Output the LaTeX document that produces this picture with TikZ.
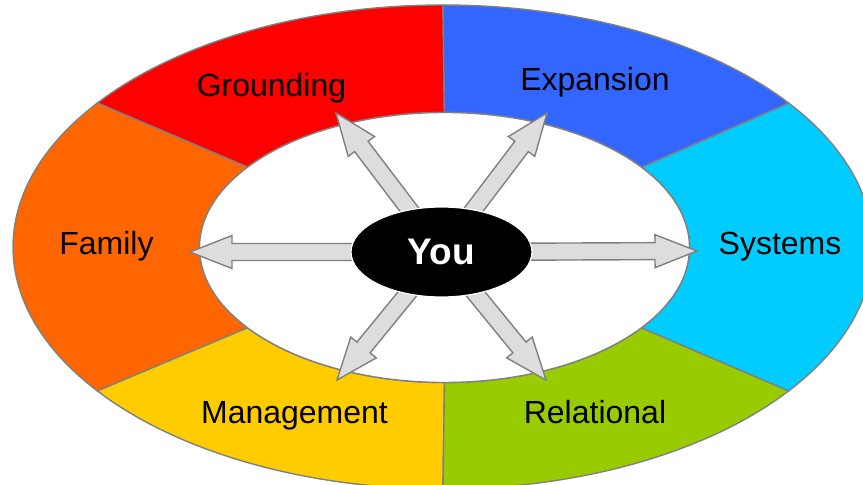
\documentclass[tikz,border=0pt]{standalone}
\usepackage{fontspec}
\setmainfont{Liberation Sans}
\usetikzlibrary{calc,shapes.geometric}

\definecolor{groundred}{HTML}{FF0000}
\definecolor{expandblue}{HTML}{3366FF}
\definecolor{systemcyan}{HTML}{00CCFF}
\definecolor{relgreen}{HTML}{99CC00}
\definecolor{manageyellow}{HTML}{FFCC00}
\definecolor{familyorange}{HTML}{FF6600}
\definecolor{rimgray}{HTML}{808080}
\definecolor{shaftgray}{HTML}{DDDDDD}

% fat arrow from #1 to the tip #2
\newcommand{\bigarrow}[2]{%
  \coordinate (h) at ($(#2)!42pt!(#1)$);
  \filldraw[arrowbody] ($(#1)!8.5pt!90:(#2)$) -- ($(h)!8.5pt!-90:(#1)$) -- ($(h)!16.5pt!-90:(#1)$)
    -- (#2) -- ($(h)!16.5pt!90:(#1)$) -- ($(h)!8.5pt!90:(#1)$) -- ($(#1)!8.5pt!-90:(#2)$) -- cycle;}

\begin{document}
\begin{tikzpicture}[x=1pt, y=1pt,
    sector/.style={draw=rimgray, line width=1.4pt},
    arrowbody/.style={draw=rimgray, fill=shaftgray, line width=1.4pt, line join=miter},
    ringtext/.style={font=\fontsize{32}{36}\selectfont, anchor=base, inner sep=0pt},
    younode/.style={ellipse, fill=black, draw=white, line width=1.2pt, minimum width=181pt, minimum height=90pt, inner sep=0pt, text=white, font=\fontsize{37}{40}\selectfont\bfseries}
    ]
    \clip (-443,-238) rectangle (420,247);
    \coordinate (mid) at (1.5,-0.5);

    % ring sectors
    \filldraw[sector, fill=groundred] (90:430 and 242) arc[start angle=90, end angle=143.5, x radius=430, y radius=242]
      -- ($(mid)+(143.5:245 and 135)$) arc[start angle=143.5, end angle=90, x radius=245, y radius=135] -- cycle;
    \filldraw[sector, fill=familyorange] (143.5:430 and 242) arc[start angle=143.5, end angle=216.5, x radius=430, y radius=242]
      -- ($(mid)+(216.5:245 and 135)$) arc[start angle=216.5, end angle=143.5, x radius=245, y radius=135] -- cycle;
    \filldraw[sector, fill=manageyellow] (216.5:430 and 242) arc[start angle=216.5, end angle=270, x radius=430, y radius=242]
      -- ($(mid)+(270:245 and 135)$) arc[start angle=270, end angle=216.5, x radius=245, y radius=135] -- cycle;
    \filldraw[sector, fill=relgreen] (270:430 and 242) arc[start angle=270, end angle=323.5, x radius=430, y radius=242]
      -- ($(mid)+(323.5:245 and 135)$) arc[start angle=323.5, end angle=270, x radius=245, y radius=135] -- cycle;
    \filldraw[sector, fill=systemcyan] (-36.5:430 and 242) arc[start angle=-36.5, end angle=36.5, x radius=430, y radius=242]
      -- ($(mid)+(36.5:245 and 135)$) arc[start angle=36.5, end angle=-36.5, x radius=245, y radius=135] -- cycle;
    \filldraw[sector, fill=expandblue] (36.5:430 and 242) arc[start angle=36.5, end angle=90, x radius=430, y radius=242]
      -- ($(mid)+(90:245 and 135)$) arc[start angle=90, end angle=36.5, x radius=245, y radius=135] -- cycle;
    \filldraw[sector, fill=white] (mid) ellipse[x radius=245, y radius=135];

    \node[ringtext] (grounding) at (-171.5,150.3) {Grounding};
    \node[ringtext] (expansion) at (152,156) {Expansion};
    \node[ringtext] (family) at (-336.5,-7) {Family};
    \node[ringtext] (systems) at (337,-7) {Systems};
    \node[ringtext] (management) at (-148.5,-176) {Management};
    \node[ringtext] (relational) at (152,-176) {Relational};

    % arrows out of the centre
    \coordinate (youc) at (-1.5,-5);
    \coordinate (tipG) at (-107,134);
    \coordinate (tipE) at (104,134);
    \coordinate (tipF) at (-253,-5);
    \coordinate (tipS) at (254,-4);
    \coordinate (tipM) at (-106,-133);
    \coordinate (tipR) at (103,-133);
    \bigarrow{youc}{tipG}
    \bigarrow{youc}{tipE}
    \bigarrow{youc}{tipF}
    \bigarrow{youc}{tipS}
    \bigarrow{youc}{tipM}
    \bigarrow{youc}{tipR}

    \node[younode] (you) at (youc) {You};
\end{tikzpicture}
\end{document}
